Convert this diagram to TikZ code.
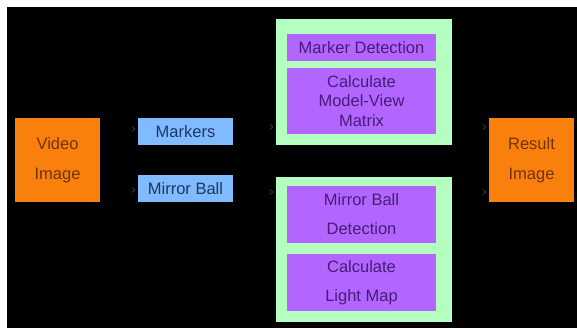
\documentclass[tikz,border=0pt]{standalone}
\usepackage{fontspec}
\setmainfont{Liberation Sans}
\usetikzlibrary{arrows.meta}
\definecolor{ioorange}{RGB}{250,128,14}
\definecolor{iotext}{RGB}{112,52,8}
\definecolor{featblue}{RGB}{128,186,255}
\definecolor{feattext}{RGB}{28,56,100}
\definecolor{stagegreen}{RGB}{180,255,192}
\definecolor{taskpurple}{RGB}{178,102,255}
\definecolor{tasktext}{RGB}{72,28,120}
\definecolor{tipgray}{RGB}{70,70,70}
\begin{document}
\begin{tikzpicture}[x=1pt,y=-1pt,
  blk/.style={draw=none, inner sep=0pt, align=center},
  iobox/.style={blk, fill=ioorange, text=iotext, minimum width=85, minimum height=84,
    font=\fontsize{16.5}{30}\selectfont},
  featbox/.style={blk, fill=featblue, text=feattext, minimum width=95, minimum height=27,
    font=\fontsize{16.5}{20}\selectfont},
  stagebox/.style={blk, fill=stagegreen, minimum width=176},
  taskbox/.style={blk, fill=taskpurple, text=tasktext, minimum width=149},
  conn/.style={draw=black, line width=0.6pt, shorten >=2.5pt,
    -{Straight Barb[length=3pt,width=5pt,color=tipgray]}}]
\useasboundingbox (0,0) rectangle (577,328);
\fill[white] (0,0) rectangle (577,328);
\fill[black] (7,7) rectangle (577,328);

% input and extracted features
\node[iobox] (vid) at (57.5,160) {Video\\Image};
\node[featbox] (mk) at (185.5,131.5) {Markers};
\node[featbox] (mb) at (185.5,188.5) {Mirror Ball};

% processing stages
\node[stagebox, minimum height=126] (gt) at (364,82) {};
\node[stagebox, minimum height=145] (gb) at (364,249.5) {};
\node[taskbox, minimum height=27, font=\fontsize{16.5}{20}\selectfont] (t1) at (361.5,47.5) {Marker Detection};
\node[taskbox, minimum height=66, font=\fontsize{16.5}{19.5}\selectfont] (t2) at (361.5,101) {Calculate\\Model-View\\Matrix};
\node[taskbox, minimum height=57, font=\fontsize{16.5}{29}\selectfont] (t3) at (361.5,214.5) {Mirror Ball\\Detection};
\node[taskbox, minimum height=57, font=\fontsize{16.5}{29}\selectfont] (t4) at (361.5,282.5) {Calculate\\Light Map};

% output
\node[iobox] (res) at (531.5,160) {Result\\Image};

% connector rows
\coordinate (rowa) at (0,129);
\coordinate (rowb) at (0,190);
\coordinate (rowc) at (0,127);
\coordinate (rowd) at (0,192);

\draw[conn] (vid.east |- rowa) -- (mk.west |- rowa);
\draw[conn] (vid.east |- rowb) -- (mb.west |- rowb);
\draw[conn] (mk.east |- rowc) -- (gt.west |- rowc);
\draw[conn] (mb.east |- rowd) -- (gb.west |- rowd);
\draw[conn] (gt.east |- rowc) -- (res.west |- rowc);
\draw[conn] (gb.east |- rowd) -- (res.west |- rowd);
\end{tikzpicture}
\end{document}
